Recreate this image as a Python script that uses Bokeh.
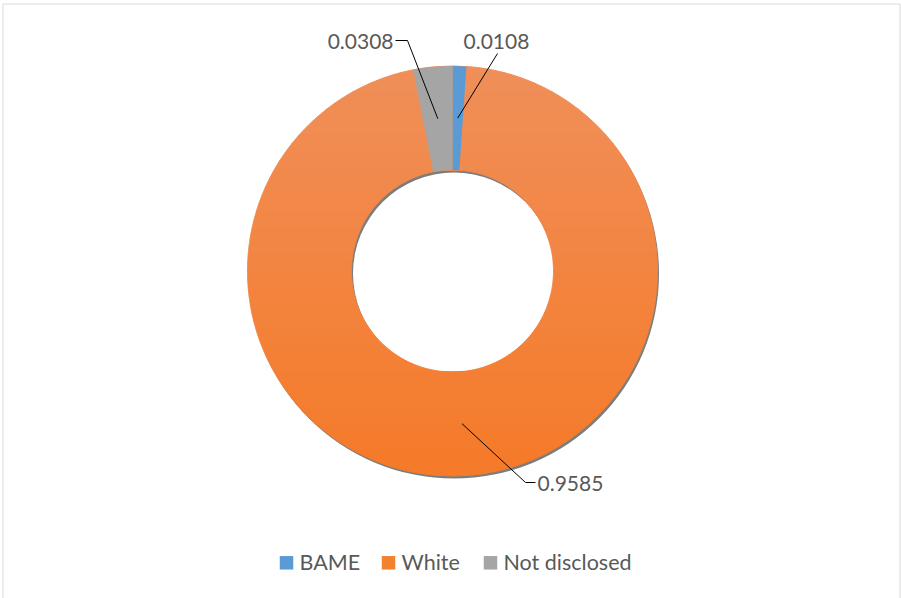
import numpy as np
from bokeh.plotting import figure
from bokeh.models import Range1d
from bokeh.embed import file_html
from bokeh.resources import INLINE
from bokeh.core.properties import value

# ---- data ----
categories = ["BAME", "White", "Not disclosed"]
shares = [0.0108, 0.9585, 0.0308]
labels = ["0.0108", "0.9585", "0.0308"]
colors = ["#5B9BD5", "#F3822F", "#A5A5A5"]

# ---- layout ----
W, H = 901, 598
FONT = "Lato"
TXT = "#595959"


def Y(py):
    return H - py


p = figure(width=W, height=H, x_range=Range1d(0, W), y_range=Range1d(0, H),
           output_backend="svg", toolbar_location=None, min_border=0)
p.axis.visible = False
p.grid.visible = False
p.outline_line_color = None
p.background_fill_color = "white"
p.border_fill_color = "white"

# chart area border
p.quad(left=2.5, right=899.5, top=Y(3.5), bottom=Y(620), fill_color=None,
       line_color="#D9D9D9", line_width=1)

cx, cy = 452.0, Y(270.5)
R, r = 205.0, 101.0

# shadow
p.annulus(x=cx + 1.5, y=cy - 2.5, inner_radius=r, outer_radius=R,
          fill_color="#6E6E6E", line_color=None, fill_alpha=0.9)

# orange ring with vertical gradient (drawn as horizontal bands)
top_c = np.array([240, 143, 90])
bot_c = np.array([245, 122, 40])


def bands(a, b, n):
    e = np.linspace(a, b, n + 1)
    return list(zip(e[:-1], e[1:]))


segs = bands(R, r, 12) + bands(r, -r, 24) + bands(-r, -R, 12)
bxs, bys, bcol = [], [], []
for y0, y1 in segs:  # y0 > y1
    ys = np.linspace(y1, y0, 12)
    t = (R - (y0 + y1) / 2) / (2 * R)
    c = top_c + (bot_c - top_c) * t
    col = "#%02x%02x%02x" % tuple(int(round(v)) for v in c)
    outer = np.sqrt(np.maximum(R * R - ys * ys, 0))
    if y1 >= r - 1e-9 or y0 <= -r + 1e-9:
        bxs.append(list(cx + np.concatenate([outer, -outer[::-1]])))
        bys.append(list(cy + np.concatenate([ys, ys[::-1]])))
        bcol.append(col)
    else:
        inner = np.sqrt(np.maximum(r * r - ys * ys, 0))
        for s in (1, -1):
            bxs.append(list(cx + s * np.concatenate([outer, inner[::-1]])))
            bys.append(list(cy + np.concatenate([ys, ys[::-1]])))
            bcol.append(col)
p.patches(xs=bxs, ys=bys, fill_color=bcol, line_color=bcol, line_width=1)

# small slices on top
cum = np.concatenate([[0], np.cumsum(shares)[:-1]])
for i, (c0, s) in enumerate(zip(cum, shares)):
    if categories[i] == "White":
        continue
    p.annular_wedge(x=cx, y=cy, inner_radius=r, outer_radius=R,
                    start_angle=np.pi / 2 - 2 * np.pi * c0,
                    end_angle=np.pi / 2 - 2 * np.pi * (c0 + s),
                    direction="clock", fill_color=colors[i], line_color=None)

# leader lines
rm = (R + r) / 2
anchors = []
for c0, s in zip(cum, shares):
    th = np.pi / 2 - 2 * np.pi * (c0 + s / 2)
    anchors.append((cx + rm * np.cos(th), cy + rm * np.sin(th)))

lead_x = [
    [anchors[0][0], 497],
    [anchors[1][0], 525, 535],
    [anchors[2][0], 407, 395],
]
lead_y = [
    [anchors[0][1], Y(53)],
    [anchors[1][1], Y(482), Y(482)],
    [anchors[2][1], Y(40), Y(40)],
]
p.multi_line(xs=lead_x, ys=lead_y, line_color="black", line_width=1)

lab_x = [463, 537, 393]
lab_y = [Y(40.5), Y(483), Y(40.5)]
lab_align = ["left", "left", "right"]
for i in range(3):
    p.text(x=[lab_x[i]], y=[lab_y[i]], text=[labels[i]], text_font=value(FONT),
           text_font_size="21px", text_color=TXT, text_align=lab_align[i],
           text_baseline="middle")

# legend
leg_sq_x = [286, 388, 490]
leg_tx_x = [299, 401, 503]
p.rect(x=leg_sq_x, y=[Y(562.3)] * 3, width=13.5, height=13.5,
       fill_color=colors, line_color=None)
p.text(x=leg_tx_x, y=[Y(561.5)] * 3, text=categories, text_font=value(FONT),
       text_font_size="21.5px", text_color=TXT, text_align="left",
       text_baseline="middle")

open("out.html", "w").write(file_html(p, INLINE))
